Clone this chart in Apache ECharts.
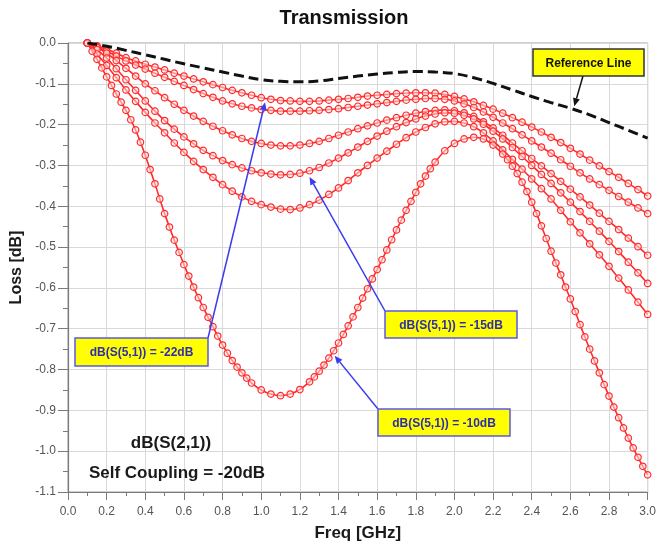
<!DOCTYPE html>
<html>
<head>
<meta charset="utf-8">
<title>Transmission</title>
<script src="https://cdn.jsdelivr.net/npm/echarts/dist/echarts.min.js"></script>
<style>
  html, body { margin: 0; padding: 0; background: #fff; }
  #main { width: 659px; height: 547px; }
</style>
</head>
<body>
<div id="main"></div>
<script>
// Frequency sweep (GHz) shared by the five upper traces
const freqGrid = [0.10,0.15,0.20,0.25,0.30,0.35,0.40,0.45,0.50,0.55,0.60,0.65,0.70,0.75,0.80,0.85,0.90,0.95,1.00,1.05,1.10,1.15,1.20,1.25,1.30,1.35,1.40,1.45,1.50,1.55,1.60,1.65,1.70,1.75,1.80,1.85,1.90,1.95,2.00,2.05,2.10,2.15,2.20,2.25,2.30,2.35,2.40,2.45,2.50,2.55,2.60,2.65,2.70,2.75,2.80,2.85,2.90,2.95,3.00];

// dB(S(2,1)) for each self-coupling level, top trace (S51 = -22 dB) downwards
const lossS51m22 = [0,-0.007,-0.015,-0.025,-0.036,-0.044,-0.052,-0.059,-0.066,-0.074,-0.081,-0.088,-0.095,-0.102,-0.109,-0.116,-0.122,-0.128,-0.134,-0.138,-0.141,-0.142,-0.143,-0.143,-0.142,-0.140,-0.138,-0.136,-0.133,-0.130,-0.128,-0.126,-0.124,-0.123,-0.122,-0.122,-0.123,-0.126,-0.131,-0.137,-0.144,-0.153,-0.162,-0.172,-0.183,-0.194,-0.206,-0.218,-0.231,-0.244,-0.258,-0.272,-0.287,-0.301,-0.315,-0.329,-0.344,-0.359,-0.375];
const lossTrace2 = [0,-0.009,-0.020,-0.032,-0.044,-0.054,-0.064,-0.074,-0.084,-0.094,-0.104,-0.114,-0.124,-0.133,-0.142,-0.149,-0.155,-0.159,-0.163,-0.165,-0.167,-0.167,-0.167,-0.166,-0.165,-0.163,-0.161,-0.158,-0.155,-0.152,-0.149,-0.146,-0.143,-0.140,-0.138,-0.136,-0.136,-0.138,-0.142,-0.149,-0.158,-0.169,-0.182,-0.196,-0.210,-0.225,-0.240,-0.255,-0.270,-0.286,-0.302,-0.318,-0.333,-0.347,-0.361,-0.376,-0.390,-0.404,-0.418];
const lossTrace3 = [0,-0.011,-0.025,-0.043,-0.062,-0.081,-0.100,-0.117,-0.134,-0.150,-0.165,-0.179,-0.192,-0.204,-0.215,-0.225,-0.234,-0.241,-0.246,-0.250,-0.252,-0.252,-0.250,-0.246,-0.241,-0.234,-0.226,-0.218,-0.210,-0.203,-0.196,-0.189,-0.183,-0.177,-0.172,-0.168,-0.165,-0.164,-0.166,-0.171,-0.180,-0.193,-0.208,-0.226,-0.245,-0.264,-0.283,-0.301,-0.320,-0.339,-0.358,-0.377,-0.397,-0.417,-0.437,-0.457,-0.478,-0.499,-0.520];
const lossS51m15 = [0,-0.016,-0.037,-0.063,-0.090,-0.116,-0.142,-0.167,-0.190,-0.211,-0.230,-0.247,-0.263,-0.276,-0.288,-0.298,-0.306,-0.313,-0.318,-0.321,-0.323,-0.322,-0.319,-0.313,-0.305,-0.294,-0.282,-0.269,-0.255,-0.241,-0.228,-0.216,-0.205,-0.195,-0.186,-0.179,-0.174,-0.171,-0.172,-0.177,-0.186,-0.199,-0.216,-0.235,-0.256,-0.278,-0.300,-0.322,-0.344,-0.367,-0.390,-0.413,-0.437,-0.461,-0.486,-0.511,-0.537,-0.563,-0.589];
const lossTrace5 = [0,-0.027,-0.055,-0.085,-0.115,-0.143,-0.170,-0.196,-0.220,-0.245,-0.268,-0.290,-0.310,-0.329,-0.347,-0.363,-0.377,-0.388,-0.396,-0.402,-0.407,-0.408,-0.404,-0.396,-0.385,-0.371,-0.355,-0.337,-0.318,-0.300,-0.282,-0.265,-0.248,-0.232,-0.218,-0.207,-0.198,-0.193,-0.192,-0.196,-0.205,-0.220,-0.240,-0.262,-0.285,-0.309,-0.333,-0.357,-0.382,-0.410,-0.438,-0.465,-0.492,-0.519,-0.547,-0.576,-0.605,-0.635,-0.665];

// The -10 dB trace is swept more finely where it changes quickly
const freqS51m10 = [0.100,0.125,0.150,0.175,0.200,0.225,0.250,0.275,0.300,0.325,0.350,0.375,0.400,0.425,0.450,0.475,0.500,0.525,0.550,0.575,0.600,0.625,0.650,0.675,0.700,0.725,0.750,0.775,0.800,0.825,0.850,0.875,0.900,0.925,0.950,1.000,1.050,1.100,1.150,1.200,1.250,1.275,1.300,1.325,1.350,1.375,1.400,1.425,1.450,1.475,1.500,1.525,1.550,1.575,1.600,1.625,1.650,1.675,1.700,1.725,1.750,1.775,1.800,1.825,1.850,1.875,1.900,1.950,2.000,2.050,2.100,2.150,2.200,2.250,2.275,2.300,2.325,2.350,2.375,2.400,2.425,2.450,2.475,2.500,2.525,2.550,2.575,2.600,2.625,2.650,2.675,2.700,2.725,2.750,2.775,2.800,2.825,2.850,2.875,2.900,2.925,2.950,2.975,3.000];
const lossS51m10 = [0,-0.020,-0.040,-0.061,-0.083,-0.104,-0.125,-0.145,-0.165,-0.188,-0.213,-0.243,-0.275,-0.310,-0.345,-0.382,-0.418,-0.451,-0.483,-0.513,-0.543,-0.571,-0.598,-0.624,-0.648,-0.672,-0.695,-0.718,-0.740,-0.760,-0.778,-0.794,-0.808,-0.821,-0.833,-0.850,-0.860,-0.864,-0.860,-0.849,-0.830,-0.818,-0.804,-0.789,-0.772,-0.754,-0.735,-0.714,-0.693,-0.671,-0.648,-0.625,-0.602,-0.578,-0.555,-0.531,-0.507,-0.482,-0.458,-0.434,-0.410,-0.388,-0.366,-0.345,-0.326,-0.308,-0.292,-0.264,-0.246,-0.235,-0.231,-0.235,-0.250,-0.272,-0.286,-0.302,-0.320,-0.341,-0.364,-0.390,-0.418,-0.448,-0.479,-0.510,-0.539,-0.568,-0.598,-0.627,-0.658,-0.690,-0.720,-0.750,-0.779,-0.808,-0.837,-0.865,-0.892,-0.918,-0.943,-0.968,-0.992,-1.015,-1.037,-1.058];

// Reference (lossless coupling) line
const freqRef = [0.1,0.2,0.3,0.4,0.5,0.6,0.7,0.8,0.9,1.0,1.1,1.2,1.3,1.4,1.5,1.6,1.7,1.8,1.9,2.0,2.1,2.2,2.3,2.4,2.5,2.6,2.7,2.8,2.9,3.0];
const lossRef = [0,-0.008,-0.018,-0.029,-0.040,-0.051,-0.061,-0.071,-0.081,-0.090,-0.094,-0.095,-0.093,-0.087,-0.081,-0.076,-0.072,-0.070,-0.071,-0.075,-0.085,-0.099,-0.115,-0.131,-0.146,-0.160,-0.176,-0.195,-0.214,-0.233];

// Axis ticks
const xTicks = { min: 0, max: 3, step: 0.2 };
const yTicks = { min: -1.1, max: 0, step: 0.1 };

const FONT = '"Liberation Sans", Arial, sans-serif';
const RED = '#ff2b2b';

function pairs(xs, ys) { return xs.map((x, i) => [x, ys[i]]); }

function redTrace(name, xs, ys) {
  return {
    name: name,
    type: 'line',
    data: pairs(xs, ys),
    smooth: 0.3,
    symbol: 'circle',
    symbolSize: 6.5,
    showSymbol: true,
    lineStyle: { color: RED, width: 1.6 },
    itemStyle: { color: 'rgba(255,225,225,0.55)', borderColor: RED, borderWidth: 1.2 },
    emphasis: { disabled: true },
    z: 3
  };
}

function fmt(v) {
  if (Math.abs(v) < 1e-9) return '0.0';
  return v.toFixed(1);
}

const chart = echarts.init(document.getElementById('main'), null, { renderer: 'canvas' });

const option = {
  animation: false,
  backgroundColor: '#ffffff',
  grid: {
    left: 68, right: 11, top: 43, bottom: 52,
    show: true, borderColor: '#a0a0a0', borderWidth: 1, backgroundColor: 'transparent'
  },
  xAxis: {
    type: 'value',
    min: xTicks.min, max: xTicks.max, interval: xTicks.step,
    name: 'Freq [GHz]',
    nameLocation: 'middle',
    nameGap: 33,
    nameTextStyle: { fontFamily: FONT, fontSize: 17, fontWeight: 'bold', color: '#1a1a1a' },
    axisLine: { show: true, onZero: false, lineStyle: { color: '#7a7a7a', width: 1.2 } },
    axisTick: { show: true, length: 8, lineStyle: { color: '#7a7a7a' } },
    minorTick: { show: true, splitNumber: 2, length: 4, lineStyle: { color: '#7a7a7a' } },
    axisLabel: { fontFamily: FONT, fontSize: 12, color: '#555', margin: 14, formatter: fmt },
    splitLine: { show: true, lineStyle: { color: '#d9d9d9', width: 1 } }
  },
  yAxis: {
    type: 'value',
    min: yTicks.min, max: yTicks.max, interval: yTicks.step,
    name: 'Loss [dB]',
    nameLocation: 'middle',
    nameGap: 36,
    nameRotate: 90,
    nameTextStyle: { fontFamily: FONT, fontSize: 16, fontWeight: 'bold', color: '#1a1a1a' },
    axisLine: { show: true, onZero: false, lineStyle: { color: '#7a7a7a', width: 1.2 } },
    axisTick: { show: true, length: 10, lineStyle: { color: '#7a7a7a' } },
    minorTick: { show: true, splitNumber: 2, length: 5, lineStyle: { color: '#7a7a7a' } },
    axisLabel: { fontFamily: FONT, fontSize: 12, color: '#555', margin: 12, formatter: fmt },
    splitLine: { show: true, lineStyle: { color: '#d9d9d9', width: 1 } }
  },
  series: [
    {
      name: 'Reference',
      type: 'line',
      data: pairs(freqRef, lossRef),
      smooth: 0.4,
      showSymbol: false,
      lineStyle: { color: '#111', width: 3, type: [10, 5] },
      emphasis: { disabled: true },
      z: 4
    },
    redTrace('S51 -22 dB', freqGrid, lossS51m22),
    redTrace('trace 2', freqGrid, lossTrace2),
    redTrace('trace 3', freqGrid, lossTrace3),
    redTrace('S51 -15 dB', freqGrid, lossS51m15),
    redTrace('trace 5', freqGrid, lossTrace5),
    redTrace('S51 -10 dB', freqS51m10, lossS51m10)
  ]
};

chart.setOption(option);

// Callout boxes with pointer arrows; the arrow tips sit on the plotted traces (data coordinates)
const callouts = [
  { text: 'Reference Line', box: [533, 49, 111, 27], from: [583, 76], tip: [2.62, -0.155],
    textColor: '#111', border: '#333', line: '#111' },
  { text: 'dB(S(5,1)) = -22dB', box: [75, 338, 133, 28], from: [208, 338], tip: [1.02, -0.145],
    textColor: '#2e2eb0', border: '#5a5ae6', line: '#3b3bf0' },
  { text: 'dB(S(5,1)) = -15dB', box: [385, 311, 132, 27], from: [385, 311], tip: [1.25, -0.328],
    textColor: '#2e2eb0', border: '#5a5ae6', line: '#3b3bf0' },
  { text: 'dB(S(5,1)) = -10dB', box: [378, 409, 132, 27], from: [378, 409], tip: [1.38, -0.766],
    textColor: '#2e2eb0', border: '#5a5ae6', line: '#3b3bf0' }
];

function toPx(p) { return chart.convertToPixel({ xAxisIndex: 0, yAxisIndex: 0 }, p); }

const graphics = [];

graphics.push({
  type: 'text', x: 344, y: 18, z: 10,
  style: { text: 'Transmission', font: 'bold 20px ' + FONT, fill: '#111', align: 'center', verticalAlign: 'middle' }
});
graphics.push({
  type: 'text', x: 171, y: 443, z: 10,
  style: { text: 'dB(S(2,1))', font: 'bold 17px ' + FONT, fill: '#1a1a1a', align: 'center', verticalAlign: 'middle' }
});
graphics.push({
  type: 'text', x: 177, y: 473, z: 10,
  style: { text: 'Self Coupling = -20dB', font: 'bold 17px ' + FONT, fill: '#1a1a1a', align: 'center', verticalAlign: 'middle' }
});

callouts.forEach(c => {
  const tip = toPx(c.tip);
  const dx = tip[0] - c.from[0], dy = tip[1] - c.from[1];
  const len = Math.sqrt(dx * dx + dy * dy);
  const ux = dx / len, uy = dy / len;
  const headLen = 8, headHalf = 3.5;
  const bx = tip[0] - ux * headLen, by = tip[1] - uy * headLen;
  graphics.push({
    type: 'line', z: 11,
    shape: { x1: c.from[0], y1: c.from[1], x2: bx, y2: by },
    style: { stroke: c.line, lineWidth: 1.5 }
  });
  graphics.push({
    type: 'polygon', z: 11,
    shape: { points: [[tip[0], tip[1]], [bx - uy * headHalf, by + ux * headHalf], [bx + uy * headHalf, by - ux * headHalf]] },
    style: { fill: c.line }
  });
  graphics.push({
    type: 'rect', z: 12,
    shape: { x: c.box[0], y: c.box[1], width: c.box[2], height: c.box[3] },
    style: { fill: '#ffff00', stroke: c.border, lineWidth: 1.5 }
  });
  graphics.push({
    type: 'text', z: 13,
    x: c.box[0] + c.box[2] / 2, y: c.box[1] + c.box[3] / 2 + 1,
    style: { text: c.text, font: 'bold 12px ' + FONT, fill: c.textColor, align: 'center', verticalAlign: 'middle' }
  });
});

chart.setOption({ graphic: graphics });
</script>
</body>
</html>
